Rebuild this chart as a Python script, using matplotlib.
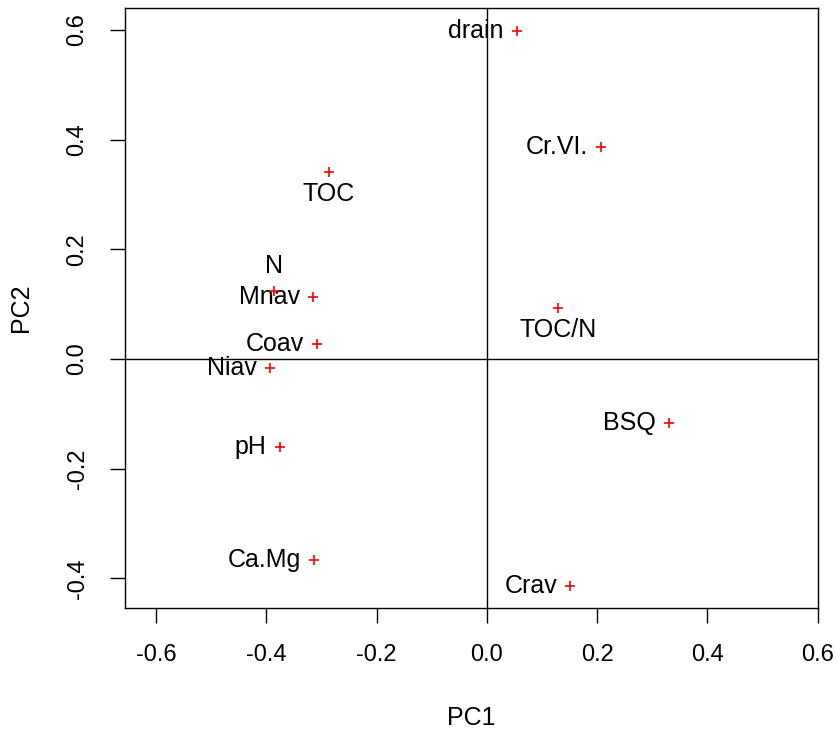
#!/usr/bin/env python3

"""PCA loadings plot, PC1 vs PC2, R base-graphics look."""

import matplotlib
matplotlib.use('Agg')
import matplotlib.pyplot as plt

plt.rcParams['font.family'] = ['Liberation Sans', 'DejaVu Sans']

# loadings
variables = ['drain', 'Cr.VI.', 'TOC', 'N', 'Mnav', 'Coav', 'Niav',
             'TOC/N', 'BSQ', 'pH', 'Ca.Mg', 'Crav']
pc1 = [0.054, 0.207, -0.287, -0.387, -0.316, -0.309, -0.394,
       0.129, 0.330, -0.376, -0.314, 0.151]
pc2 = [0.598, 0.386, 0.342, 0.124, 0.113, 0.027, -0.016,
       0.093, -0.117, -0.160, -0.366, -0.413]
# where the label sits relative to its point (R's pos: 1 below, 2 left, 3 above)
label_pos = [2, 2, 1, 3, 2, 2, 2, 1, 2, 2, 2, 2]

x_ticks = [-0.6, -0.4, -0.2, 0.0, 0.2, 0.4, 0.6]
y_ticks = [-0.4, -0.2, 0.0, 0.2, 0.4, 0.6]

fig = plt.figure(figsize=(8.37, 7.37), dpi=100)
ax = fig.add_axes([0.149, 0.175, 0.828, 0.814])

ax.axhline(0, color='black', lw=1.0, zorder=1)
ax.axvline(0, color='black', lw=1.0, zorder=1)

ax.plot(pc1, pc2, linestyle='none', marker='+', color='red',
        markersize=7, markeredgewidth=1.2, zorder=3)

for name, x, y, pos in zip(variables, pc1, pc2, label_pos):
    if pos == 1:
        off, ha = (0, -22), 'center'
    elif pos == 3:
        off, ha = (0, 25), 'center'
    else:
        off, ha = (-13, 0), 'right'
    ax.annotate(name, (x, y), xytext=off, textcoords='offset pixels',
                ha=ha, va='center', fontsize=18, color='black', zorder=2)

ax.set_xlim(-0.657, 0.6)
ax.set_ylim(-0.454, 0.64)
ax.set_xticks(x_ticks)
ax.set_xticklabels(['%.1f' % t for t in x_ticks])
ax.set_yticks(y_ticks)
ax.set_yticklabels(['%.1f' % t for t in y_ticks], rotation=90, va='center')
ax.tick_params(axis='both', labelsize=17, length=11, width=1.0,
               direction='out', pad=15)
for spine in ax.spines.values():
    spine.set_linewidth(1.0)

ax.set_xlabel('PC1', fontsize=18, labelpad=29)
ax.set_ylabel('PC2', fontsize=18, labelpad=24)

plt.savefig('out.png', dpi=100)
